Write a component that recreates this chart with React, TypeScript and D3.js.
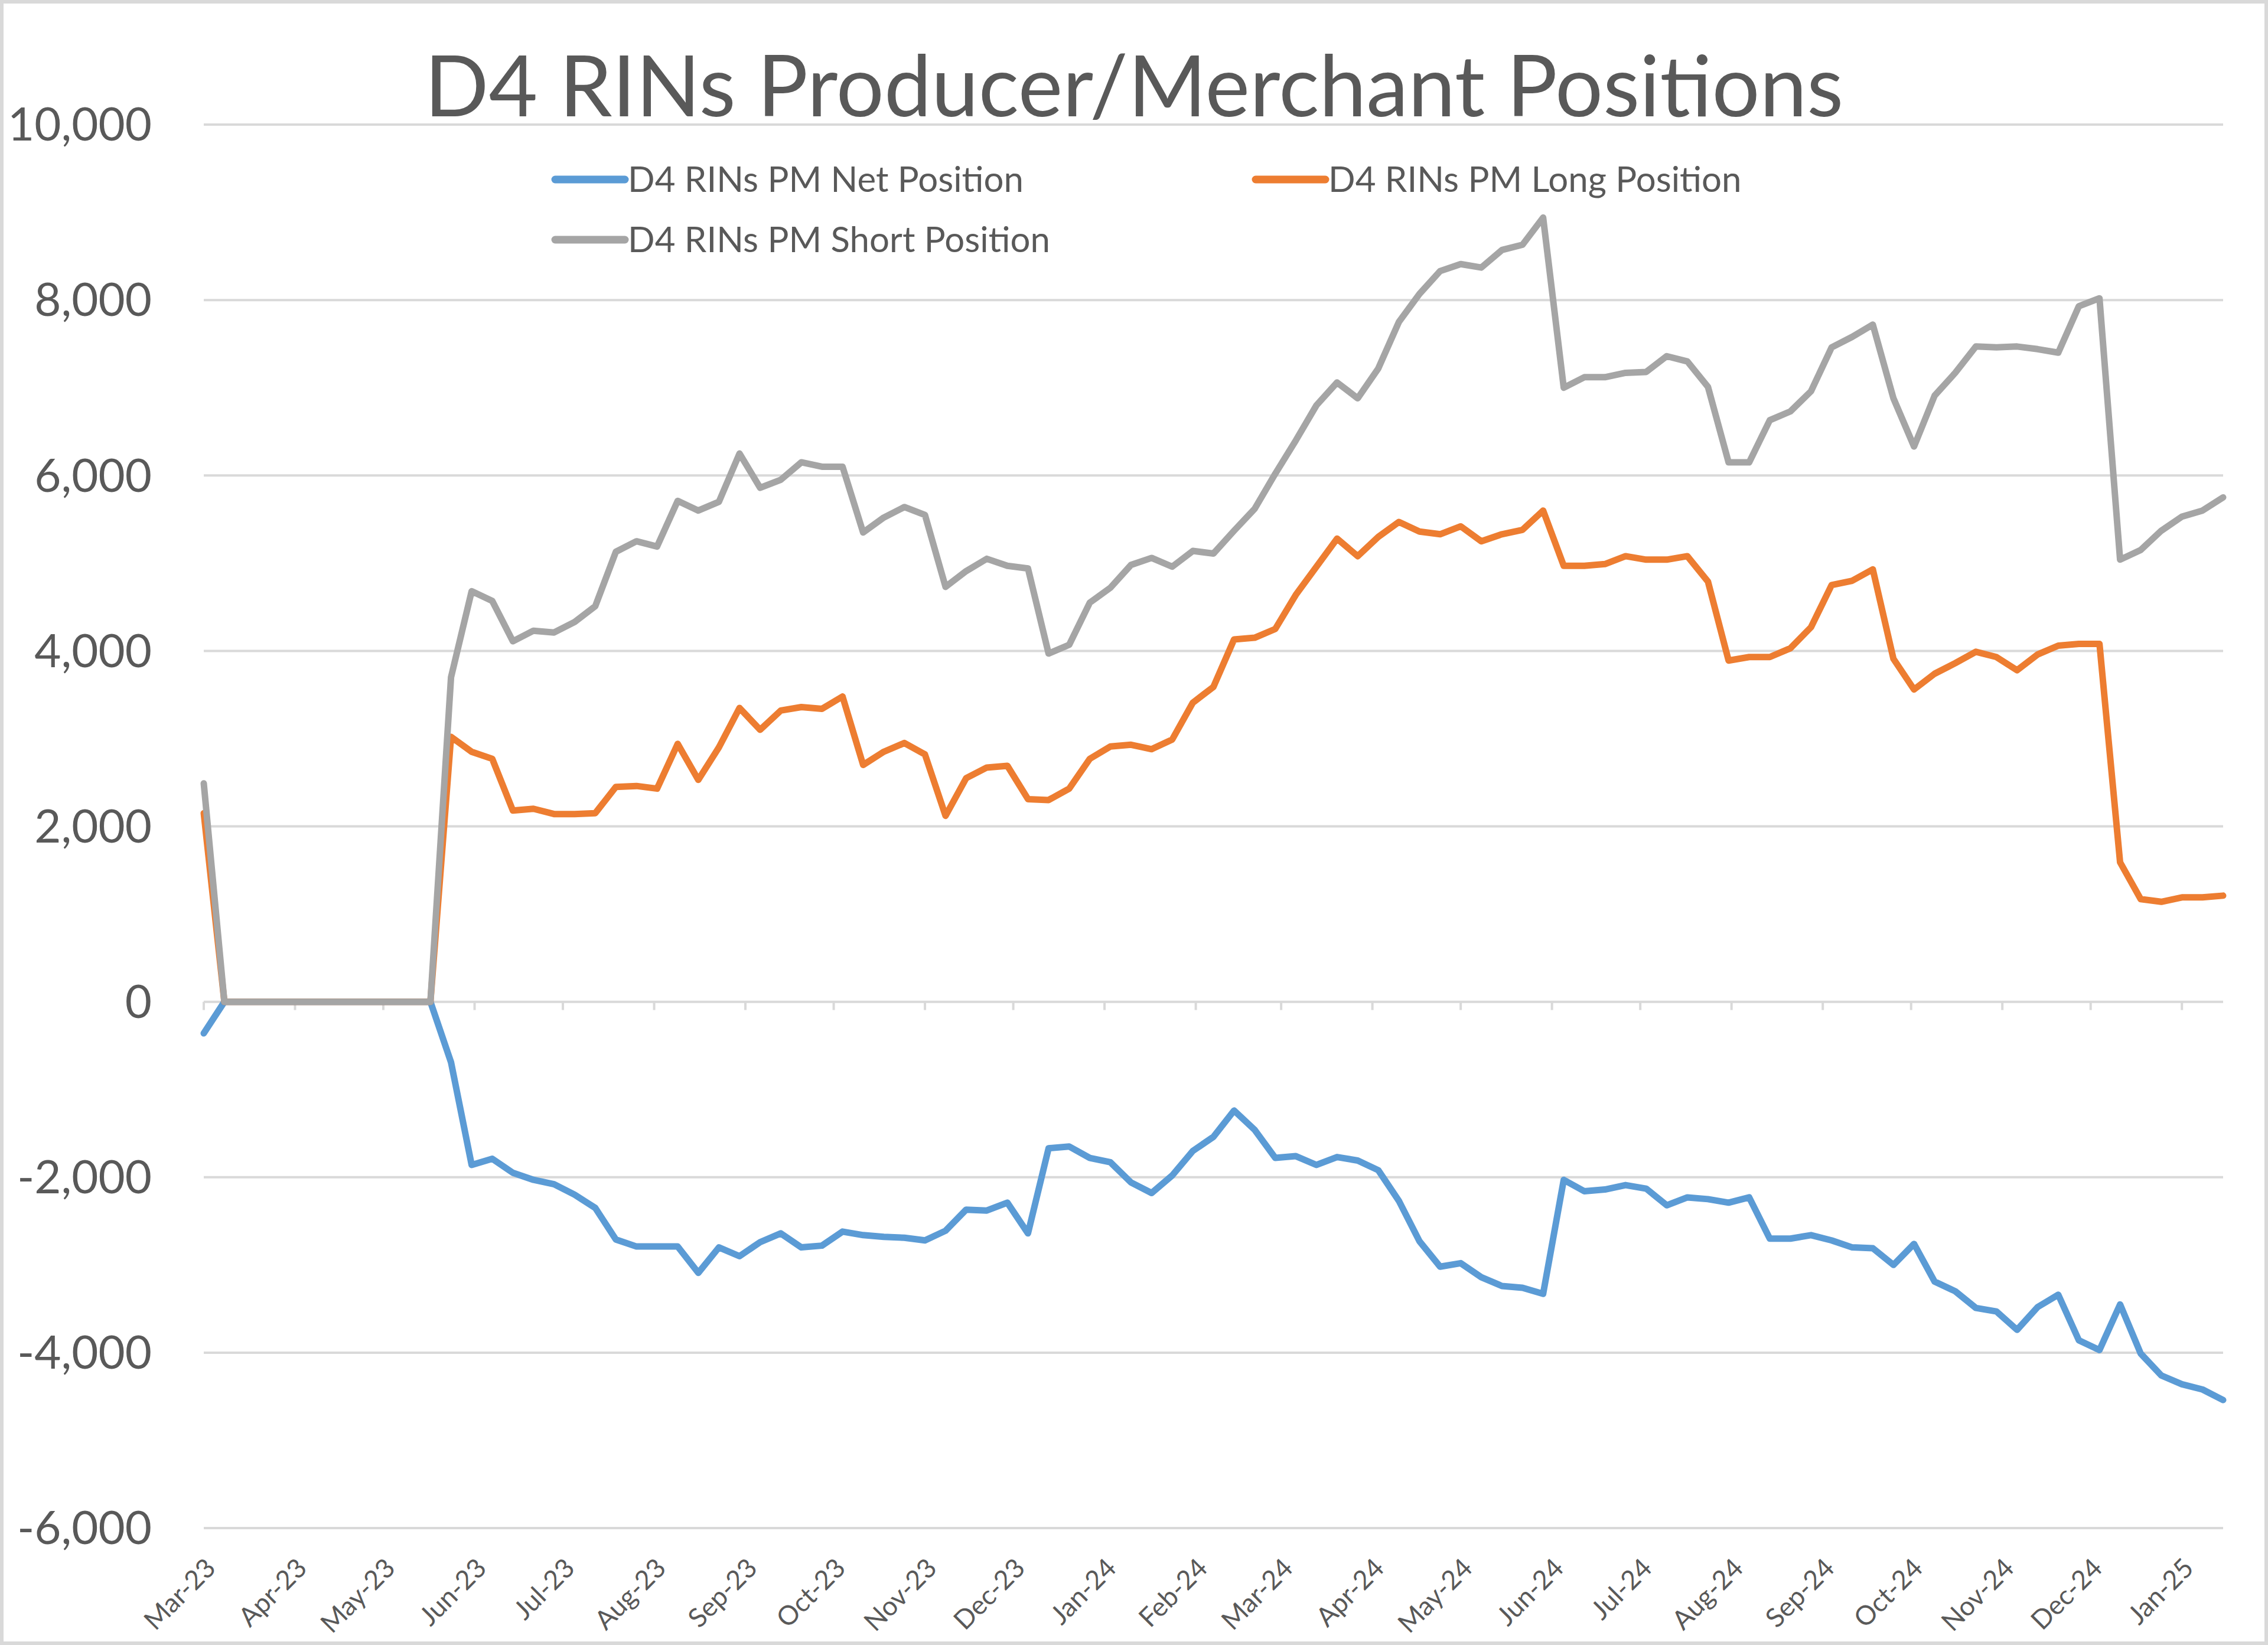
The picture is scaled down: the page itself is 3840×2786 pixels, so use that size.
import React from 'react';
import * as d3 from 'd3';

// weekly observations, first one on 2023-03-07
const startDate = new Date(Date.UTC(2023, 2, 7));

const netPosition = [
  -360, 0, 0, 0, 0, 0, 0, 0, 0, 0, 0, 0,
  -690, -1860, -1790, -1950, -2030, -2080, -2200, -2350, -2710, -2790,
  -2790, -2790, -3090, -2800, -2900, -2740, -2640, -2800, -2780, -2620,
  -2660, -2680, -2690, -2720, -2610, -2370, -2380, -2290, -2640, -1670,
  -1650, -1780, -1830, -2060, -2180, -1980, -1700, -1540, -1240, -1460,
  -1780, -1760, -1860, -1770, -1810, -1920, -2270, -2730, -3020, -2980,
  -3140, -3240, -3260, -3330, -2030, -2160, -2140, -2090, -2130, -2320,
  -2230, -2250, -2290, -2230, -2700, -2700, -2660, -2720, -2800, -2810,
  -3000, -2760, -3190, -3300, -3490, -3530, -3740, -3480, -3340, -3860,
  -3970, -3450, -4010, -4260, -4360, -4420, -4540,
];

const longPosition = [
  2150, 0, 0, 0, 0, 0, 0, 0, 0, 0, 0, 0,
  3020, 2850, 2770, 2180, 2200, 2140, 2140, 2150, 2450, 2460,
  2430, 2940, 2530, 2900, 3350, 3100, 3320, 3360, 3340, 3480,
  2700, 2850, 2950, 2820, 2120, 2550, 2670, 2690, 2310, 2300,
  2430, 2770, 2910, 2930, 2880, 2990, 3410, 3590, 4130, 4150,
  4250, 4640, 4960, 5280, 5080, 5300, 5470, 5360, 5330, 5420,
  5250, 5330, 5380, 5600, 4970, 4970, 4990, 5080, 5040, 5040,
  5080, 4790, 3890, 3930, 3930, 4030, 4270, 4750, 4800, 4930,
  3910, 3560, 3740, 3860, 3990, 3930, 3780, 3960, 4060, 4080,
  4080, 1590, 1170, 1140, 1190, 1190, 1210,
];

const shortPosition = [
  2490, 0, 0, 0, 0, 0, 0, 0, 0, 0, 0, 0,
  3700, 4680, 4570, 4110, 4230, 4210, 4330, 4510, 5130, 5250,
  5190, 5710, 5600, 5700, 6250, 5860, 5950, 6150, 6100, 6100,
  5350, 5520, 5640, 5550, 4730, 4910, 5050, 4970, 4940, 3970,
  4070, 4550, 4720, 4980, 5060, 4960, 5140, 5110, 5370, 5620,
  6020, 6400, 6800, 7060, 6880, 7220, 7750, 8070, 8330, 8410,
  8370, 8570, 8630, 8940, 7000, 7120, 7120, 7170, 7180, 7360,
  7300, 7010, 6150, 6150, 6630, 6730, 6960, 7460, 7580, 7720,
  6880, 6330, 6910, 7170, 7470, 7460, 7470, 7440, 7400, 7930,
  8020, 5040, 5150, 5370, 5530, 5600, 5750,
];

const monthLabels = [
  'Mar-23', 'Apr-23', 'May-23', 'Jun-23', 'Jul-23', 'Aug-23', 'Sep-23', 'Oct-23',
  'Nov-23', 'Dec-23', 'Jan-24', 'Feb-24', 'Mar-24', 'Apr-24', 'May-24', 'Jun-24',
  'Jul-24', 'Aug-24', 'Sep-24', 'Oct-24', 'Nov-24', 'Dec-24', 'Jan-25',
];

const yTicks = [-6000, -4000, -2000, 0, 2000, 4000, 6000, 8000, 10000];

const seriesNames = [
  'D4 RINs PM Net Position',
  'D4 RINs PM Long Position',
  'D4 RINs PM Short Position',
];
const seriesColors = ['#5B9BD5', '#ED7D31', '#A5A5A5'];

const dates = netPosition.map((_, i) => d3.utcDay.offset(startDate, i * 7));

const W = 3840;
const H = 2786;
const FONT = 'Lato, "Open Sans", sans-serif';
const TEXT = '#595959';
const GRID = '#D9D9D9';

// Excel style: plain hyphen for negatives
const fmt = (v: number) => d3.format(',')(v).replace('\u2212', '-');

export default function App() {
  const x = d3.scaleUtc()
    .domain([dates[0], dates[dates.length - 1]])
    .range([345, 3764]);
  const y = d3.scaleLinear().domain([-6000, 10000]).range([2588, 211]);

  const line = d3.line<number>()
    .x((_, i) => x(dates[i]))
    .y((d) => y(d));

  const series = [netPosition, longPosition, shortPosition];
  const tickDates = monthLabels.map((_, k) => d3.utcMonth.offset(startDate, k));

  const legend = [
    { x: 940, y: 304 },
    { x: 2126, y: 304 },
    { x: 940, y: 406 },
  ];

  return (
    <svg
      width={W}
      height={H}
      style={{ position: 'absolute', left: 0, top: 0, display: 'block' }}
      fontFamily={FONT}
    >
      <rect x={0} y={0} width={W} height={H} fill="#fff" />
      <rect x={3} y={3} width={W - 6} height={H - 6} fill="none" stroke={GRID} strokeWidth={6} />

      {/* gridlines */}
      {yTicks.map((t) => (
        <line key={t} x1={345} x2={3764} y1={y(t)} y2={y(t)} stroke={GRID} strokeWidth={4} />
      ))}

      {/* month ticks on the zero line */}
      {tickDates.map((d, k) => (
        <line key={k} x1={x(d)} x2={x(d)} y1={y(0)} y2={y(0) + 14} stroke={GRID} strokeWidth={4} />
      ))}

      {/* y labels */}
      {yTicks.map((t) => (
        <text key={t} x={257} y={y(t)} dy="0.35em" textAnchor="end" fontSize={78} fill={TEXT}>
          {fmt(t)}
        </text>
      ))}

      {/* x labels */}
      {tickDates.map((d, k) => (
        <text
          key={k}
          transform={`translate(${x(d)},2636) rotate(-45)`}
          dy="0.71em"
          textAnchor="end"
          fontSize={45}
          fill={TEXT}
        >
          {monthLabels[k]}
        </text>
      ))}

      {/* series */}
      {series.map((s, j) => (
        <path
          key={j}
          d={line(s) || ''}
          fill="none"
          stroke={seriesColors[j]}
          strokeWidth={11}
          strokeLinejoin="round"
          strokeLinecap="round"
        />
      ))}

      {/* title */}
      <text x={1920} y={197} textAnchor="middle" fontSize={143} fill={TEXT}>
        D4 RINs Producer/Merchant Positions
      </text>

      {/* legend */}
      {legend.map((p, j) => (
        <g key={j}>
          <line x1={p.x} x2={p.x + 118} y1={p.y} y2={p.y} stroke={seriesColors[j]} strokeWidth={13} strokeLinecap="round" />
          <text x={p.x + 123} y={p.y} dy="0.35em" fontSize={60} fill={TEXT}>
            {seriesNames[j]}
          </text>
        </g>
      ))}
    </svg>
  );
}
